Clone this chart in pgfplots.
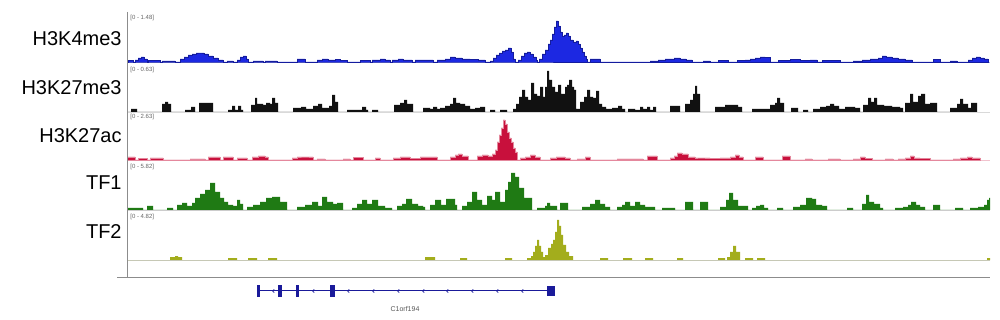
\documentclass[border=0pt]{standalone}
\usepackage{pgfplots}
\pgfplotsset{compat=1.18}
\usepackage{fontspec}
\setmainfont{Liberation Sans}
\definecolor{cK4}{HTML}{1C28E2}
\definecolor{cK27me}{HTML}{111111}
\definecolor{cK27ac}{HTML}{C8103C}
\definecolor{cTF1}{HTML}{1F7A14}
\definecolor{cTF2}{HTML}{A3AD1C}
\definecolor{navy}{HTML}{1A1A9A}
\pgfplotsset{trk/.style={x=0.5pt,y=0.5pt,xmin=127,xmax=990,ymin=0,ymax=48,hide axis,clip=false,anchor=south west}}
\newcommand{\rng}[1]{\fontsize{3}{3.5}\selectfont\color{black!60}#1}
\begin{document}
\begin{tikzpicture}
\useasboundingbox (0,0) rectangle (500pt,-160pt);
\fill[white] (0,0) rectangle (500pt,-160pt);
% ---------- H3K4me3
\begin{axis}[trk,at={(63.5pt,-31pt)}]
\draw[cK4!35,line width=0.4pt] (axis cs:127,0) -- (axis cs:990,0);
\addplot[const plot mark left,fill=cK4,draw=cK4!70!black,line width=0.2pt] table[x=x,y=h]{
x h
127 0
128 1.5
133 0
135 2
138 4
141 5
144 3
147 0
148 1.5
160 0
162 1
175 0
180 3
184 5
188 7
192 8
196 9
200 9
204 8
208 6
213 4
218 2
223 0
227 1
233 0
237 2
240 5
243 6
246 3
248 0
253 1
263 0
265 1
277 0
297 3
305 0
317 2
322 3
328 2
335 2.5
340 1.5
347 0
360 1.5
370 0
372 2
380 3
385 2
390 0
392 2
398 3
403 2
412 0
415 2
433 0
437 2
445 3
450 5
455 4
462 3
470 2.5
478 2
485 0
490 1
493 4
496 7
499 9
502 11
505 12
508 14
511 10
513 3
515 0
518 2
521 6
524 9
527 10
530 8
533 5
536 2
537 0
539 3
542 8
545 12
548 18
550 22
552 28
554 35
556 41
558 36
560 30
562 26
564 27
566 29
568 26
570 22
573 20
576 21
578 18
580 14
582 10
584 6
586 3
587 0
590 3
600 0
650 1
658 2
665 3
674 4
680 3
686 2
692 0
703 1
710 0
718 1.5
728 0
737 1.5
745 2
750 3
755 4
760 5
765 4.5
770 0
778 1.5
790 2.5
800 1.5
810 2
817 0
822 1.5
840 0
853 1
862 2
870 3
878 4
882 6
886 5
892 4
898 3
905 2
912 0
933 2.5
940 0
950 1
957 0
968 2
972 4
976 5
980 4
984 3
988 0
} \closedcycle;
\end{axis}
% ---------- H3K27me3
\begin{axis}[trk,at={(63.5pt,-56pt)}]
\draw[black!15,line width=0.4pt] (axis cs:127,0) -- (axis cs:990,0);
\addplot[const plot mark left,fill=cK27me,draw=none] table[x=x,y=h]{
x h
127 0
131 3
137 0
162 8
165 10
168 8
171 0
185 2
191 5
195 0
199 9
213 0
228 2
232 6
235 2
238 6
241 2
243 0
251 7
255 14
257 8
263 7
266 9
270 8
272 14
275 9
278 0
293 4
301 5
306 3
313 6
318 8
322 4
329 6
332 17
335 10
338 0
347 2
362 5
366 2
368 0
372 2
378 0
394 7
400 9
404 12
407 8
413 0
423 4
430 3
433 5
437 3
440 4
445 6
450 8
453 14
456 9
460 8
465 6
470 3
475 4
480 5
485 0
490 2
495 0
500 2
507 0
513 3
516 8
519 15
522 22
525 15
528 12
531 29
534 18
537 16
540 25
543 15
545 25
547 41
549 32
552 25
555 20
558 27
561 18
565 25
567 27
569 32
572 25
574 22
576 3
580 10
584 15
587 22
590 15
593 14
596 21
599 8
602 5
606 3
612 4
618 6
622 3
625 0
628 3
635 2
640 5
643 3
647 5
650 2
653 5
656 0
670 6
680 0
685 8
690 12
693 18
695 26
697 18
700 0
715 5
725 7
738 5
742 0
752 3
770 7
775 9
777 14
780 9
784 0
791 4
798 0
803 2
808 0
813 3
820 5
826 6
830 8
834 6
839 3
845 5
855 4
860 0
863 7
868 14
871 10
874 14
877 7
884 6
892 5
900 4
903 0
905 9
910 18
913 10
918 16
921 18
925 8
930 9
937 0
950 4
957 8
960 13
963 8
968 4
971 9
977 0
} \closedcycle;
\end{axis}
% ---------- H3K27ac
\begin{axis}[trk,at={(63.5pt,-80pt)}]
\draw[cK27ac!25,line width=0.4pt] (axis cs:127,0) -- (axis cs:990,0);
\addplot[const plot mark left,fill=cK27ac,draw=cK27ac!50!white,line width=0.3pt] table[x=x,y=h]{
x h
127 3
135 0
138 1.5
147 0
150 2
163 0
190 1
205 0
208 3
220 0
223 3
233 0
237 2
247 0
252 3
258 4
265 3
268 0
292 2
297 3
305 3
313 0
317 1
325 0
343 1
350 0
353 2.5
363 0
375 2
380 0
393 2
400 3
410 1.5
420 3
437 0
450 3
455 5
458 6
462 4
468 0
477 4
482 5
488 4
492 6
495 10
497 18
499 25
501 32
503 40
505 36
507 28
509 22
511 18
513 12
515 8
517 0
520 2
525 3
530 5
535 3
540 0
550 2
556 3
565 2
570 0
577 1
585 3
590 0
617 1
643 0
647 4
657 0
670 2
674 4
677 7
682 6
688 3
695 2
700 2
710 1.5
720 2
730 3
735 5
739 3
743 0
755 3
763 0
782 4
790 0
805 1
812 0
828 1
840 0
853 1
860 3
865 1.5
872 0
885 1
893 0
898 1
905 2
910 4
914 2
920 1.5
930 0
953 1
960 2
967 3
972 2
980 0
} \closedcycle;
\end{axis}
% ---------- TF1
\begin{axis}[trk,at={(63.5pt,-105pt)}]
\draw[black!20,line width=0.4pt] (axis cs:127,0) -- (axis cs:990,0);
\addplot[const plot mark left,fill=cTF1,draw=none] table[x=x,y=h]{
x h
127 0
128 2
143 0
147 4
153 0
167 2
173 0
177 5
182 7
187 4
192 7
195 12
200 16
205 20
210 27
215 18
220 12
224 8
228 5
233 4
237 10
240 6
243 0
247 3
253 5
260 8
266 12
272 13
280 8
287 0
297 3
305 5
312 8
318 4
322 13
327 8
333 6
337 7
343 0
352 2
357 6
362 10
367 6
372 10
378 4
385 2
392 0
397 4
402 6
406 11
412 6
418 4
423 3
425 0
430 5
435 10
441 5
446 11
451 11
455 5
457 0
462 4
467 8
472 18
477 10
482 5
487 14
492 10
495 18
500 8
505 20
508 28
511 37
515 33
519 22
524 12
532 0
537 2
545 4
547 7
550 4
557 0
560 7
568 0
582 3
590 6
595 10
600 6
605 3
610 0
617 3
622 5
625 8
630 4
635 8
640 5
645 3
655 0
662 2
675 0
685 8
693 0
700 8
708 0
720 3
726 10
729 17
733 10
738 4
748 0
752 2
756 4
760 5
764 2
768 0
777 2
783 0
793 3
800 5
806 12
812 11
816 5
822 4
827 0
847 2
853 0
862 6
866 15
869 8
874 6
880 2
883 0
895 2
903 3
908 5
911 8
916 5
920 3
925 0
933 5
940 0
955 2
963 0
970 2
978 3
984 5
987 10
989 12
990 0
} \closedcycle;
\end{axis}
% ---------- TF2
\begin{axis}[trk,at={(63.5pt,-130pt)}]
\draw[black!20,line width=0.4pt] (axis cs:127,0) -- (axis cs:990,0);
\addplot[const plot mark left,fill=cTF2,draw=none] table[x=x,y=h]{
x h
127 0
170 3
175 4
178 3
182 0
228 2
237 0
248 2
257 0
268 2
277 0
425 3
435 0
460 2
467 0
505 2
512 0
527 2
531 4
533 8
535 14
537 20
539 14
541 8
543 3
545 5
548 12
551 16
553 20
555 28
557 40
559 34
561 25
563 15
566 8
569 4
573 0
600 2
608 0
623 2
632 0
645 2
653 0
677 2
683 0
718 2
725 0
727 3
730 8
733 14
736 8
740 0
745 2
753 0
757 2
765 0
987 2
990 0
} \closedcycle;
\end{axis}
% ---------- gene track
\begin{axis}[trk,ymax=20,at={(63.5pt,-150pt)}]
\addplot[navy,line width=0.5pt] coordinates {(257,9) (553,9)};
\fill[navy] (axis cs:257,3) rectangle (axis cs:260,15);
\fill[navy] (axis cs:278,3) rectangle (axis cs:282,15);
\fill[navy] (axis cs:296,3) rectangle (axis cs:299,15);
\fill[navy] (axis cs:330,3) rectangle (axis cs:335,15);
\fill[navy] (axis cs:547,4) rectangle (axis cs:555,14);
\pgfplotsinvokeforeach{273,313,348,373,398,423,447,472,497,522}{
  \draw[navy,line width=0.3pt] (axis cs:#1,9) ++(0.6pt,0.8pt) -- ++(-0.8pt,-0.8pt) -- ++(0.8pt,-0.8pt);
}
\end{axis}
% ---------- frame, labels
\begin{scope}[x=0.5pt,y=-0.5pt]
\draw[black!45,line width=0.5pt] (127,12) -- (127,277);
\draw[black!45,line width=0.5pt] (117,277) -- (990,277);
\node[anchor=base east,inner sep=0,font=\fontsize{10}{12}\selectfont] at (122,46) {H3K4me3};
\node[anchor=base east,inner sep=0,font=\fontsize{10}{12}\selectfont] at (122,95) {H3K27me3};
\node[anchor=base east,inner sep=0,font=\fontsize{10}{12}\selectfont] at (122,143) {H3K27ac};
\node[anchor=base east,inner sep=0,font=\fontsize{10}{12}\selectfont] at (122,190) {TF1};
\node[anchor=base east,inner sep=0,font=\fontsize{10}{12}\selectfont] at (122,238) {TF2};
\node[anchor=west,inner sep=0] at (130,18) {\rng{[0 - 1.48]}};
\node[anchor=west,inner sep=0] at (130,70) {\rng{[0 - 0.63]}};
\node[anchor=west,inner sep=0] at (130,117) {\rng{[0 - 2.63]}};
\node[anchor=west,inner sep=0] at (130,167) {\rng{[0 - 5.82]}};
\node[anchor=west,inner sep=0] at (130,217) {\rng{[0 - 4.82]}};
\node[inner sep=0,font=\fontsize{3.5}{4}\selectfont,text=black!65] at (405,309) {C1orf194};
\end{scope}
\end{tikzpicture}
\end{document}
